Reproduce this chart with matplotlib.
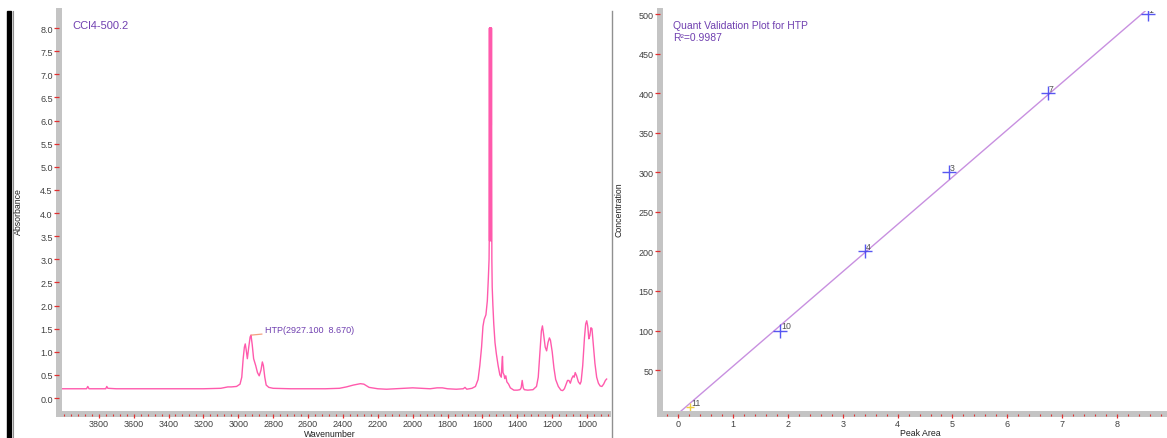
"""IR spectrum of CCl4-500.2 next to the HTP quant validation plot."""

import matplotlib

matplotlib.use("Agg")
import matplotlib.pyplot as plt
import numpy as np
from matplotlib.patches import Rectangle
from matplotlib.ticker import FormatStrFormatter, MultipleLocator

plt.rcParams["font.family"] = ["Liberation Sans", "DejaVu Sans"]

# --- spectrum (wavenumber, absorbance) ---
wavenumber = [
    4028, 3950, 3870, 3863, 3856, 3800, 3760, 3754, 3748, 3700, 3600, 3500,
    3400, 3300, 3200, 3100, 3060, 3040, 3010, 2990, 2980, 2972, 2965, 2960,
    2955, 2948, 2940, 2932, 2927, 2920, 2912, 2900, 2890, 2880, 2870, 2862,
    2856, 2848, 2840, 2825, 2800, 2700, 2600, 2500, 2420, 2380, 2340, 2300,
    2280, 2250, 2200, 2150, 2100, 2050, 2000, 1950, 1900, 1860, 1830, 1800,
    1750, 1710, 1700, 1690, 1660, 1640, 1625, 1615, 1605, 1597, 1590, 1580,
    1572, 1566, 1562,
    1561, 1560, 1559, 1558, 1557, 1556, 1555, 1554, 1553, 1552, 1551, 1550,
    1549, 1548, 1547, 1546,
    1544, 1540, 1535, 1528, 1520, 1510, 1500, 1492, 1488, 1485, 1482, 1476,
    1472, 1466, 1460, 1450, 1440, 1420, 1400, 1385, 1378, 1372, 1366, 1360,
    1340, 1310, 1290, 1280, 1272, 1262, 1256, 1250, 1240, 1232, 1224, 1216,
    1210, 1200, 1190, 1180, 1165, 1150, 1140, 1130, 1120, 1112, 1104, 1096,
    1088, 1080, 1074, 1068, 1060, 1050, 1040, 1034, 1025, 1015, 1008, 1002,
    996, 990, 984, 978, 972, 965, 955, 945, 935, 925, 915, 905, 895, 888,
]
absorbance = [
    0.20, 0.20, 0.20, 0.25, 0.20, 0.20, 0.20, 0.25, 0.21, 0.20, 0.20, 0.20,
    0.20, 0.20, 0.20, 0.21, 0.24, 0.24, 0.25, 0.30, 0.45, 0.85, 1.10, 1.17,
    1.05, 0.85, 1.10, 1.32, 1.36, 1.15, 0.85, 0.70, 0.55, 0.48, 0.60, 0.78,
    0.70, 0.45, 0.28, 0.23, 0.21, 0.20, 0.20, 0.20, 0.21, 0.24, 0.28, 0.31,
    0.30, 0.23, 0.20, 0.19, 0.20, 0.21, 0.22, 0.21, 0.20, 0.22, 0.22, 0.20,
    0.19, 0.20, 0.23, 0.19, 0.21, 0.25, 0.40, 0.70, 1.10, 1.55, 1.70, 1.80,
    2.10, 2.60, 3.00,
    3.40, 8.00, 3.40, 8.00, 5.90, 8.00, 3.40, 8.00, 5.90, 8.00, 3.40, 8.00,
    5.90, 8.00, 5.90, 3.00,
    2.40, 2.00, 1.60, 1.20, 0.95, 0.70, 0.50, 0.45, 0.75, 0.90, 0.55, 0.50,
    0.42, 0.48, 0.35, 0.30, 0.22, 0.17, 0.17, 0.18, 0.22, 0.38, 0.22, 0.18,
    0.17, 0.18, 0.25, 0.45, 0.90, 1.45, 1.56, 1.40, 1.10, 1.02, 1.20, 1.30,
    1.25, 1.00, 0.65, 0.40, 0.25, 0.17, 0.16, 0.20, 0.30, 0.38, 0.38, 0.32,
    0.42, 0.48, 0.45, 0.55, 0.48, 0.35, 0.30, 0.36, 0.70, 1.30, 1.60, 1.67,
    1.55, 1.28, 1.35, 1.52, 1.50, 1.20, 0.75, 0.45, 0.32, 0.26, 0.25, 0.30,
    0.38, 0.41,
]
peak_label = "HTP(2927.100  8.670)"
peak_pos = (2927, 1.36)
peak_text_pos = (2848, 1.48)

# --- quant validation points ---
peak_area = [1.86, 3.41, 4.94, 6.74, 8.56]
concentration = [100, 200, 300, 400, 500]
sample_ids = ["10", "4", "3", "7", "1"]
check_area = [0.22]
check_conc = [3]
check_ids = ["11"]
r_squared = 0.9987

W, H = 1167, 439
PINK = "#ff3d9e"
PURPLE = "#7040b0"
BAND = "#c4c4c4"
TICK = "#e03030"
LABEL = "#404040"

fig = plt.figure(figsize=(W / 100, H / 100), dpi=100)


def px_axes(x0, y0, x1, y1):
    # pixel box (top-left origin) -> figure fraction axes
    return fig.add_axes([x0 / W, (H - y1) / H, (x1 - x0) / W, (y1 - y0) / H])


def fig_text(x, y, s, **kw):
    return fig.text(x / W, 1 - y / H, s, **kw)


def style(ax):
    for s in ("top", "right"):
        ax.spines[s].set_visible(False)
    for s in ("left", "bottom"):
        ax.spines[s].set_color(BAND)
        ax.spines[s].set_linewidth(4.3)
    ax.xaxis.set_zorder(3)
    ax.yaxis.set_zorder(3)
    ax.tick_params(axis="y", which="major", direction="out", length=3.5,
                   width=0.9, color=TICK, labelsize=6.5, labelcolor=LABEL, pad=1)
    ax.tick_params(axis="x", which="major", direction="out", length=2.8,
                   width=0.9, color=TICK, labelsize=6.5, labelcolor=LABEL,
                   pad=1.2)
    ax.tick_params(axis="x", which="minor", direction="out", length=1.6,
                   width=0.8, color=TICK)


# ---------------- spectrum ----------------
ax1 = px_axes(59, 12, 608, 414.5)
ax1.plot(wavenumber, absorbance, color=PINK, lw=1.0, alpha=0.85)
ax1.set_xlim(4028, 880)
ax1.set_ylim(-0.335, 8.37)
ax1.set_xticks(np.arange(3800, 999, -200))
ax1.xaxis.set_minor_locator(MultipleLocator(40))
ax1.set_yticks(np.arange(0, 8.01, 0.5))
ax1.yaxis.set_major_formatter(FormatStrFormatter("%.1f"))
style(ax1)
fig_text(72, 26, "CCl4-500.2", color=PURPLE, fontsize=8, ha="left",
         va="center")
ax1.annotate(peak_label, xy=peak_pos, xytext=peak_text_pos, color=PURPLE,
             fontsize=6.5, ha="left", va="center",
             arrowprops={"arrowstyle": "-", "color": "#f4a080", "lw": 0.9,
                         "shrinkA": 0, "shrinkB": 0})
fig_text(330, 435, "Wavenumber", fontsize=6.3, ha="center", va="center",
         color="#202020")
fig_text(18, 212, "Absorbance", fontsize=6.3, ha="center", va="center",
         rotation=90, color="#202020")

# ---------------- validation plot ----------------
ax2 = px_axes(660, 12, 1167, 414.5)
slope, icpt = np.polyfit(concentration, peak_area, 1)
conc_line = np.array([-10, 520])
ax2.plot(slope * conc_line + icpt, conc_line, color="#c890e0", lw=1.0)
ax2.plot(peak_area, concentration, ls="none", marker="+", ms=10, mew=1.0,
         color="#3a3af0", alpha=0.85)
ax2.plot(check_area, check_conc, ls="none", marker="+", ms=6, mew=1.0,
         color="#f0d040")
for x, y, t in zip(peak_area + check_area, concentration + check_conc,
                   sample_ids + check_ids):
    ax2.annotate(t, (x, y), xytext=(0.5, 1.5), textcoords="offset points",
                 fontsize=6.3, color="#505050", annotation_clip=False,
                 clip_on=True)
ax2.set_xlim(-0.33, 8.91)
ax2.set_ylim(-4.9, 503.9)
ax2.set_xticks(np.arange(0, 9))
ax2.xaxis.set_minor_locator(MultipleLocator(0.2))
ax2.set_yticks(np.arange(50, 501, 50))
style(ax2)
fig_text(673, 26, "Quant Validation Plot for HTP", color=PURPLE, fontsize=7.5,
         ha="left", va="center")
fig_text(673, 38, f"R\u00b2={r_squared:.4f}", color=PURPLE, fontsize=7.5,
         ha="left", va="center")
fig_text(920, 434, "Peak Area", fontsize=6.3, ha="center", va="center",
         color="#202020")
fig_text(619, 210, "Concentration", fontsize=6.3, ha="center", va="center",
         rotation=90, color="#202020")

# frame pieces of the original window
fig.patches.append(Rectangle((7 / W, 0), 4 / W, 1 - 12 / H,
                             transform=fig.transFigure, color="black"))
fig.add_artist(plt.Line2D([12.5 / W, 12.5 / W], [0, 1 - 12 / H],
                          transform=fig.transFigure, color="#909090", lw=0.8))
fig.add_artist(plt.Line2D([612 / W, 612 / W], [0, 1 - 12 / H],
                          transform=fig.transFigure, color="#909090", lw=1.0))

fig.savefig("out.png", dpi=100)
